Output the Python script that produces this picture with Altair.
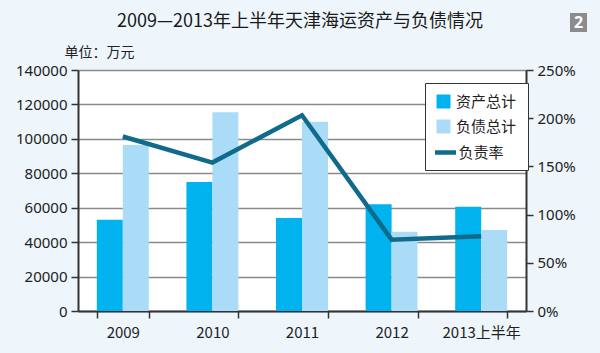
import altair as alt
import pandas as pd

years = ["2009", "2010", "2011", "2012", "2013上半年"]
assets = [53000, 75000, 54000, 62000, 60500]
debts = [96500, 115500, 110000, 46000, 47000]
rate = [1.81, 1.54, 2.03, 0.74, 0.775]

bar_series = ["资产总计", "负债总计"]
bar_colors = ["#00b2ee", "#aadcf7"]
line_series = ["负责率"]
line_colors = ["#0f6a8c"]

title_text = ["2009—2013年上半年天津海运资产与负债情况"]
badge_label = ["2"]

bars = pd.DataFrame(
    [{"year": y, "series": bar_series[0], "value": v} for y, v in zip(years, assets)]
    + [{"year": y, "series": bar_series[1], "value": v} for y, v in zip(years, debts)]
)
line = pd.DataFrame({"year": years, "rate": rate, "series": line_series[0]})

FONT = "Noto Sans"
CJK = "Noto Sans CJK SC"

xenc = alt.X(
    "year:N",
    sort=years,
    scale=alt.Scale(paddingInner=0.42, paddingOuter=0.21),
    axis=alt.Axis(
        title=None, labelAngle=0, tickBand="extent", labelFont=CJK,
        labelFontSize=15, labelColor="#222", labelPadding=7,
        domainColor="#333", domainWidth=2, tickColor="#333", tickWidth=1.5,
        tickSize=7, grid=False,
    ),
)

bar_layer = alt.Chart(bars).mark_bar().encode(
    x=xenc,
    xOffset=alt.XOffset("series:N", sort=bar_series, scale=alt.Scale(paddingInner=0, paddingOuter=0)),
    y=alt.Y(
        "value:Q",
        scale=alt.Scale(domain=[0, 140000], nice=False),
        axis=alt.Axis(
            values=[0, 20000, 40000, 60000, 80000, 100000, 120000, 140000],
            format="d", labelFont=FONT, labelFontSize=15, labelColor="#222",
            labelPadding=4, tickSize=7, tickColor="#333", tickWidth=1.5,
            domainColor="#333", domainWidth=2,
            grid=True, gridColor="#8a8a8a", gridWidth=1.5,
            title="单位：万元", titleAngle=0, titleFont=CJK, titleFontSize=14,
            titleFontWeight="normal", titleColor="#222", titleAlign="left",
            titleBaseline="middle", titleX=-14, titleY=-18,
        ),
    ),
    color=alt.Color(
        "series:N",
        scale=alt.Scale(domain=bar_series, range=bar_colors),
        legend=alt.Legend(
            title=" ", titleOrient="bottom", titleFontSize=15, titlePadding=9,
            orient="none", legendX=347, legendY=13, direction="vertical",
            fillColor="white", strokeColor="#333", padding=11,
            labelFont=CJK, labelFontSize=15, labelColor="#222", labelOffset=5,
            symbolType="square", symbolSize=196, symbolStrokeWidth=0,
            symbolOpacity=1, rowPadding=9, zindex=1,
        ),
    ),
)

line_layer = alt.Chart(line).mark_line(strokeWidth=4.5).encode(
    x=alt.X("year:N", sort=years),
    y=alt.Y(
        "rate:Q",
        scale=alt.Scale(domain=[0, 2.5], nice=False),
        axis=alt.Axis(
            orient="right", values=[0, 0.5, 1, 1.5, 2, 2.5], format=".0%",
            labelFont=FONT, labelFontSize=15, labelColor="#222", labelPadding=4,
            tickSize=7, tickColor="#333", tickWidth=1.5,
            domainColor="#333", domainWidth=2, grid=False, title=None,
        ),
    ),
    stroke=alt.Stroke(
        "series:N",
        scale=alt.Scale(domain=line_series, range=line_colors),
        legend=alt.Legend(
            title=None, orient="none", legendX=354.5, legendY=69.5, padding=0,
            labelFont=CJK, labelFontSize=15, labelColor="#222", labelOffset=0,
            symbolType="stroke", symbolSize=441, symbolStrokeWidth=4.5, zindex=2,
        ),
    ),
)

title_layer = alt.Chart(pd.DataFrame({"t": title_text})).mark_text(
    font=CJK, fontSize=18, color="#1a1a1a", align="center", baseline="middle", clip=False
).encode(x=alt.value(222), y=alt.value(-48), text="t:N")

badge = alt.Chart(pd.DataFrame({"t": badge_label})).mark_rect(color="#8c8c8c", clip=False).encode(
    x=alt.value(492), x2=alt.value(509), y=alt.value(-57), y2=alt.value(-38)
)
badge_text = alt.Chart(pd.DataFrame({"t": badge_label})).mark_text(
    color="white", font=FONT, fontSize=16, fontWeight="bold", align="center", baseline="middle", clip=False
).encode(x=alt.value(500.5), y=alt.value(-47), text="t:N")

chart = (
    alt.layer(bar_layer, line_layer, title_layer, badge, badge_text)
    .resolve_scale(y="independent")
    .properties(
        width=448,
        height=241,
        background="#eef6fc",
        padding={"left": 78, "top": 70, "right": 74, "bottom": 42},
        autosize=alt.AutoSizeParams(type="none"),
    )
    .configure_view(fill="white", stroke=None)
)

chart.save("out.html", embed_options={"renderer": "svg", "actions": False})
